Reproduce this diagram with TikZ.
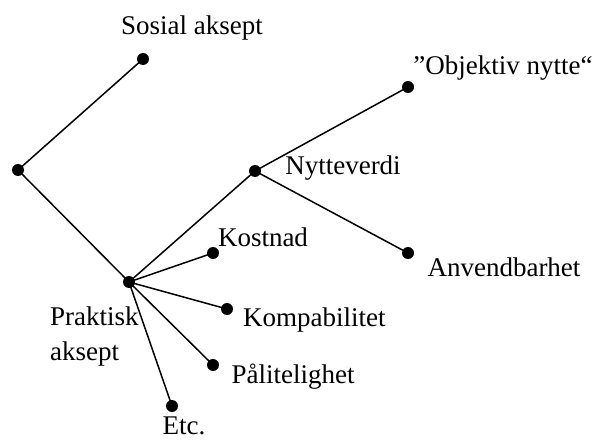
\documentclass[tikz,border=0pt]{standalone}
\usepackage{fontspec}
\setmainfont{Liberation Serif}
\begin{document}
\begin{tikzpicture}[x=1pt,y=-1pt,
  dot/.style={circle,fill=black,inner sep=0pt,minimum size=12pt},
  lbl/.style={inner sep=0pt,font=\fontsize{27}{35}\selectfont},
  edge/.style={draw=black,line width=1.5pt}]
\useasboundingbox (0,0) rectangle (595,441);
% points of the tree
\node[dot] (root) at (18,170) {};
\node[dot] (sos) at (143,59) {};
\node[dot] (prak) at (129,282) {};
\node[dot] (nytte) at (255,171) {};
\node[dot] (obj) at (408,87) {};
\node[dot] (anv) at (408,253) {};
\node[dot] (kost) at (213,253) {};
\node[dot] (komp) at (227,309) {};
\node[dot] (pal) at (213,365) {};
\node[dot] (etc) at (172,406) {};
% branches
\draw[edge] (root.center) -- (sos.center);
\draw[edge] (root.center) -- (prak.center);
\draw[edge] (prak.center) -- (nytte.center);
\draw[edge] (nytte.center) -- (obj.center);
\draw[edge] (nytte.center) -- (anv.center);
\draw[edge] (prak.center) -- (kost.center);
\draw[edge] (prak.center) -- (komp.center);
\draw[edge] (prak.center) -- (pal.center);
\draw[edge] (prak.center) -- (etc.center);
% labels
\node[lbl] (tsos) at (192,28) {Sosial aksept};
\node[lbl,align=left,anchor=west] (tprak) at (50,337) {Praktisk\\aksept};
\node[lbl] (tnytte) at (343,168) {Nytteverdi};
\node[lbl] (tobj) at (503,68) {”Objektiv nytte“};
\node[lbl] (tanv) at (504,267) {Anvendbarhet};
\node[lbl] (tkost) at (263,237) {Kostnad};
\node[lbl,anchor=west] (tkomp) at (243,320) {Kompabilitet};
\node[lbl] (tpal) at (293,377) {Pålitelighet};
\node[lbl,anchor=base] (tetc) at (184,434) {Etc.};
\end{tikzpicture}
\end{document}
